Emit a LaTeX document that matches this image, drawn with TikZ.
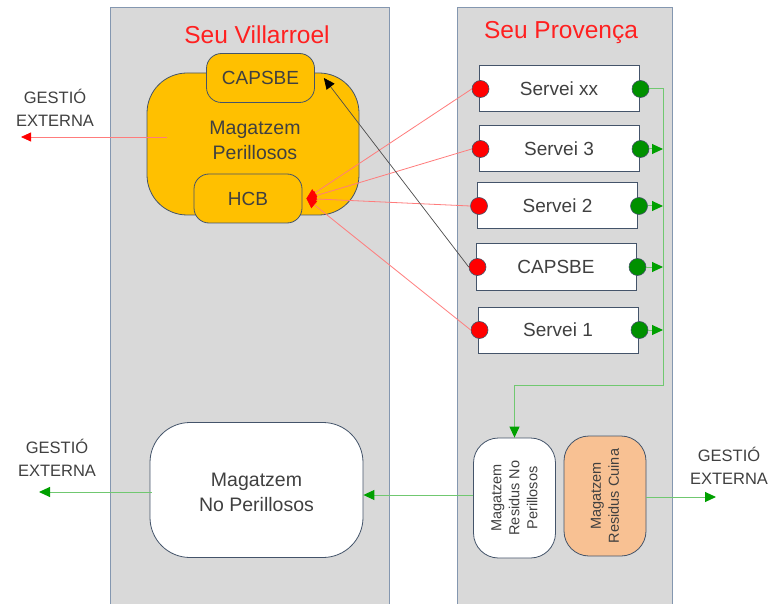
\documentclass[tikz,border=0pt]{standalone}
\usepackage{fontspec}
\setmainfont{Liberation Sans}
\usetikzlibrary{arrows.meta,calc}
\definecolor{panelfill}{HTML}{D9D9D9}
\definecolor{panelline}{HTML}{8497B0}
\definecolor{boxline}{HTML}{44546A}
\definecolor{txt}{HTML}{404040}
\definecolor{orangeA}{HTML}{FFC000}
\definecolor{peach}{HTML}{F8C193}
\definecolor{gdot}{HTML}{009000}
\definecolor{glineC}{HTML}{70C870}
\definecolor{gtip}{HTML}{00A000}
\definecolor{rlineC}{HTML}{FF7C7C}
\definecolor{titlered}{HTML}{FF2020}
\begin{document}
\begin{tikzpicture}[x=1pt,y=-1pt,
  panel/.style={draw=panelline,line width=1.2pt,fill=panelfill,anchor=north west,inner sep=0pt},
  ttl/.style={text=titlered,font=\fontsize{24.5}{28}\selectfont},
  bigbox/.style={draw=boxline,line width=0.8pt,rounded corners=40pt,inner sep=0pt},
  bigtext/.style={align=center,text=txt,font=\fontsize{19.5}{25}\selectfont},
  smallbox/.style={draw=boxline,line width=0.8pt,fill=orangeA,rounded corners=15pt,minimum width=108pt,minimum height=49pt,text=txt,font=\fontsize{19}{23}\selectfont,inner sep=0pt},
  srv/.style={draw=boxline,line width=1pt,fill=white,minimum width=160pt,minimum height=46pt,text=txt,font=\fontsize{19}{23}\selectfont,inner sep=0pt},
  rdot/.style={circle,draw=boxline,line width=0.6pt,fill=red,minimum size=17pt,inner sep=0pt},
  gdotS/.style={circle,draw=boxline,line width=0.6pt,fill=gdot,minimum size=17pt,inner sep=0pt},
  vbox/.style={draw=boxline,line width=0.8pt,rounded corners=25pt,minimum width=82pt,minimum height=120pt,inner sep=0pt},
  vtext/.style={rotate=90,align=center,text=txt,font=\fontsize{14.5}{18}\selectfont},
  ext/.style={align=center,text=txt,font=\fontsize{16.5}{22.5}\selectfont},
  rline/.style={draw=rlineC,line width=0.8pt,-{Triangle[length=10pt,width=9pt,color=red]}},
  gline/.style={draw=glineC,line width=1pt,-{Triangle[length=11pt,width=10pt,color=gtip]}}
]
\useasboundingbox (0,0) rectangle (771,604);
\fill[white] (0,0) rectangle (771,604);

% panels
\node[panel,minimum width=279pt,minimum height=620pt] (villarroel) at (110,7) {};
\node[panel,minimum width=215pt,minimum height=620pt] (provenca) at (457,7) {};
\node[ttl] (tV) at (257,35) {Seu Villarroel};
\node[ttl] (tP) at (561,33) {Seu Provença};

% dangerous store
\node[bigbox,fill=orangeA,minimum width=212pt,minimum height=142pt] (magP) at (253,144) {};
\node[bigtext] (magPt) at (255,140) {Magatzem\\Perillosos};
\node[smallbox] (capsbeS) at (260.5,78) {CAPSBE};
\node[smallbox] (hcb) at (248,198.5) {HCB};

% non-dangerous store
\node[bigbox,fill=white,minimum width=213pt,minimum height=135pt] (magNP) at (256.5,490) {};
\node[bigtext] (magNPt) at (256.5,492.5) {Magatzem\\No Perillosos};

% services
\node[srv] (sxx) at (559,89) {Servei xx};
\node[srv] (s3) at (559,149) {Servei 3};
\node[srv] (s2) at (557.5,206) {Servei 2};
\node[srv] (scap) at (556,267) {CAPSBE};
\node[srv] (s1) at (558,330) {Servei 1};

\foreach \s in {sxx,s3,s2,scap,s1}{
  \node[rdot] (r\s) at ([xshift=2pt]\s.west) {};
  \node[gdotS] (g\s) at ([xshift=1pt]\s.east) {};
}

% residue stores
\node[vbox,fill=white] (resNP) at (514.5,498) {};
\node[vtext] (resNPt) at (resNP.center) {Magatzem\\Residus No\\Perillosos};
\node[vbox,fill=peach] (cuina) at (605,496) {};
\node[vtext] (cuinat) at (cuina.center) {Magatzem\\Residus Cuina};

% external labels
\node[ext] (ext1) at (55,108) {GESTIÓ\\EXTERNA};
\node[ext] (ext2) at (57,458) {GESTIÓ\\EXTERNA};
\node[ext] (ext3) at (729,466) {GESTIÓ\\EXTERNA};
\coordinate (e1) at (21,137);
\coordinate (e2) at (39,492);
\coordinate (e3) at (716,497);
\coordinate (bus) at (663,385);

% red connectors
\draw[rline] ([xshift=20pt]magP.west |- e1) -- (e1);
\foreach \s in {sxx,s3,s2,s1}{
  \draw[rline] (r\s.west) -- ([xshift=4pt]hcb.east);
}
\draw[draw=black!70,line width=0.7pt,-{Triangle[length=11pt,width=10pt,color=black]}] (rscap.west) -- ([xshift=9pt]capsbeS.east);

% green connectors
\draw[gline] (gsxx.east) -| (bus) -| (resNP.north);
\foreach \s in {s3,s2,scap,s1}{
  \draw[gline] (g\s.east) -- (g\s.east -| bus);
}
\draw[gline] (resNP.west |- 0,495) -- (magNP.east |- 0,495);
\draw[gline] ([xshift=2pt]magNP.west |- e2) -- (e2);
\draw[gline] (cuina.east |- e3) -- (e3);
\end{tikzpicture}
\end{document}
